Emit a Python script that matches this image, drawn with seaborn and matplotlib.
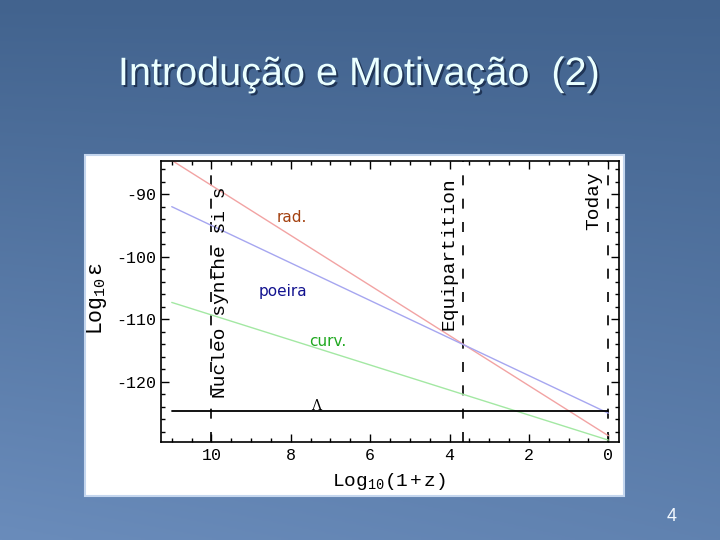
import numpy as np
import pandas as pd
import matplotlib
matplotlib.use("Agg")
import matplotlib.pyplot as plt
import matplotlib.patheffects as pe
from matplotlib.patches import Rectangle
from matplotlib.ticker import MultipleLocator
import seaborn as sns

# ---------------- data ----------------
x_log1pz = [11.0, 0.0]
rad = [-84.6, -128.6]
poeira = [-92.0, -125.0]
curv = [-107.3, -129.3]
lam = [-124.7, -124.7]

event_x = [10.0, 3.66, 0.0]
event_labels = ["Nucleo synthe si s", "Equipartition", "Today"]
event_label_x = [9.78, 4.01, 0.36]
event_label_y = [-122.5, -111.7, -95.7]

xticks = [10, 8, 6, 4, 2, 0]
yticks = [-90, -100, -110, -120]

series_labels = ["rad.", "poeira", "curv."]
series_label_x = [7.98, 8.2, 7.07]
series_label_y = [-93.8, -105.5, -113.6]
series_label_colors = ["#a3400f", "#12128f", "#1fa81f"]

title = "Introdução e Motivação  (2)"
page = "4"

# ---------------- styling ----------------
sns.set_theme(style="ticks")
plt.rcParams["font.family"] = ["DejaVu Sans"]
plt.rcParams["axes.unicode_minus"] = False
plt.rcParams["mathtext.fontset"] = "custom"
plt.rcParams["mathtext.rm"] = "Liberation Mono"
plt.rcParams["mathtext.it"] = "Liberation Mono"

fig = plt.figure(figsize=(7.2, 5.4), dpi=100)

# slide background gradient
bg = fig.add_axes([0, 0, 1, 1])
rows, cols = 200, 200
r = np.linspace(0, 1, rows)[:, None]
c = np.linspace(0, 1, cols)[None, :]
t = np.clip(0.75 * r + 0.25 * (1 - c) * r, 0, 1)
top = np.array([0x42, 0x63, 0x8e]) / 255
bot = np.array([0x6a, 0x8c, 0xbb]) / 255
img = top[None, None, :] * (1 - t[..., None]) + bot[None, None, :] * t[..., None]
bg.imshow(img, extent=[0, 1, 0, 1], aspect="auto", origin="upper")
bg.set_xlim(0, 1)
bg.set_ylim(0, 1)
bg.axis("off")

# white picture panel
bg.add_patch(Rectangle((85 / 720, 1 - 496 / 540), 539 / 720, 341 / 540,
                       transform=fig.transFigure, facecolor="white",
                       edgecolor="#c4d6ee", lw=1.5, zorder=2))

# main axes
ax = fig.add_axes([0.2242, 0.1815, 0.6361, 0.5204])
ax.set_facecolor("white")

df = pd.concat([
    pd.DataFrame({"x": x_log1pz, "y": rad, "series": "rad."}),
    pd.DataFrame({"x": x_log1pz, "y": poeira, "series": "poeira"}),
    pd.DataFrame({"x": x_log1pz, "y": curv, "series": "curv."}),
], ignore_index=True)
sns.lineplot(data=df, x="x", y="y", hue="series",
             palette={"rad.": "#f2a3a3", "poeira": "#a6a6f0", "curv.": "#a3e8a3"},
             legend=False, ax=ax, linewidth=1.0)
sns.lineplot(x=x_log1pz, y=lam, color="black", linewidth=1.3, ax=ax)

for xv in event_x:
    ax.axvline(xv, color="black", lw=1.2, linestyle=(0, (6, 8)), zorder=1)

for lab, lx, ly in zip(event_labels, event_label_x, event_label_y):
    ax.text(lx, ly, lab, rotation=90, ha="center", va="bottom",
            family="Liberation Mono", fontsize=14, color="black")

for lab, lx, ly, col in zip(series_labels, series_label_x, series_label_y, series_label_colors):
    ax.text(lx, ly, lab, ha="center", va="center", fontsize=11,
            family="DejaVu Sans", color=col)

ax.text(7.37, lam[0] + 0.25, "Λ", ha="center", va="baseline",
        family="DejaVu Serif", fontsize=10, color="black")

ax.set_xlim(11.26, -0.28)
ax.set_ylim(-129.6, -84.7)
ax.set_xticks(xticks)
ax.set_xticklabels([str(v) for v in xticks])
ax.set_yticks(yticks)
ax.set_yticklabels([str(v) for v in yticks])
ax.xaxis.set_minor_locator(MultipleLocator(0.5))
ax.yaxis.set_minor_locator(MultipleLocator(2))
ax.tick_params(which="both", direction="in", top=True, right=True,
               color="black", width=1.0)
ax.tick_params(which="major", length=5.5)
ax.tick_params(which="minor", length=3)
ax.tick_params(axis="y", pad=4)
ax.tick_params(axis="x", pad=4)
for lbl in ax.get_xticklabels() + ax.get_yticklabels():
    lbl.set_family("Liberation Mono")
    lbl.set_fontsize(12)
    lbl.set_color("black")
for s in ax.spines.values():
    s.set_color("black")
    s.set_linewidth(1.2)

ax.set_xlabel(r"$\mathrm{Log}_{\mathrm{10}}\mathrm{(1+z)}$", fontsize=14, color="black")
ax.set_ylabel(r"$\mathrm{Log}_{\mathrm{10}}\,\mathrm{ε}$", fontsize=15.5, color="black")
ax.xaxis.set_label_coords(0.498, -0.103)
ax.yaxis.set_label_coords(-0.115, 0.512)

# slide title and page number
fig.text(0.4986, 1 - 85 / 540, title, ha="center", va="baseline",
         fontsize=28.5, color="#eaffff", family="Liberation Sans",
         path_effects=[pe.withSimplePatchShadow(offset=(1.5, -1.5),
                                                shadow_rgbFace="#1c3050", alpha=0.9)])
fig.text(671.7 / 720, 1 - 516.7 / 540, page, ha="center", va="center",
         fontsize=13, color="#f4f9ff", family="Liberation Sans")

fig.savefig("out.png", dpi=100)
